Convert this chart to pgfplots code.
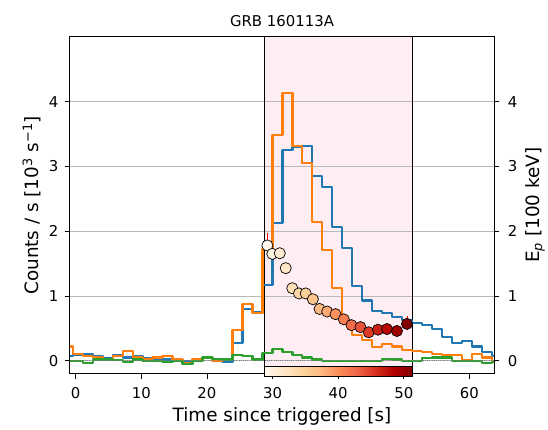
\documentclass[border=0pt]{standalone}
\usepackage{pgfplots}
\pgfplotsset{compat=1.18}
\usepackage{pgfplotstable}
\usepackage{fontspec}
\setmainfont{DejaVu Sans}
\usetikzlibrary{calc}

\definecolor{mplblue}{HTML}{1F77B4}
\definecolor{mplorange}{HTML}{FF7F0E}
\definecolor{mplgreen}{HTML}{2CA02C}
\definecolor{pinkspan}{RGB}{254,237,242}

\pgfplotstableread{
x b o g
-1.993 0.08 0.22 0.00
-0.470 0.09 0.10 0.00
1.053 0.11 0.08 -0.03
2.576 0.07 0.05 0.02
4.099 0.04 0.02 0.02
5.622 0.09 0.07 0.01
7.145 0.05 0.15 -0.02
8.668 0.07 0.05 0.02
10.191 0.04 0.03 -0.01
11.714 0.03 0.05 0.00
13.237 0.02 0.08 -0.02
14.760 0.02 0.02 0.00
16.283 -0.01 -0.03 -0.05
17.806 0.02 0.02 0.00
19.329 0.04 0.04 0.05
20.852 0.03 0.00 0.03
22.375 -0.02 0.02 0.02
23.898 0.28 0.47 0.09
25.421 0.80 0.88 0.07
26.944 0.76 0.74 0.02
28.467 1.17 1.72 0.12
29.990 2.13 3.49 0.18
31.513 3.25 4.14 0.13
33.036 3.30 3.31 0.09
34.559 3.31 3.06 0.05
36.082 2.85 2.14 0.02
37.605 2.68 1.71 0.00
39.128 2.07 1.13 0.00
40.651 1.74 0.60 0.00
42.174 1.15 0.40 0.00
43.697 0.93 0.32 0.00
45.220 0.77 0.21 0.00
46.743 0.74 0.26 0.03
48.266 0.67 0.22 0.02
49.789 0.63 0.17 0.00
51.312 0.59 0.15 0.00
52.835 0.55 0.13 0.04
54.358 0.49 0.11 0.05
55.881 0.37 0.09 0.05
57.404 0.28 0.09 0.00
58.927 0.31 0.01 0.00
60.450 0.22 0.10 0.00
61.973 0.14 0.05 -0.03
63.496 0.07 0.00 -0.02
65.019 0.07 0.00 -0.02
}\lc

\pgfplotstableread{
t ep
29.21 1.78
29.97 1.65
31.10 1.66
32.01 1.43
33.01 1.12
34.03 1.04
35.05 1.04
36.15 0.95
37.17 0.80
38.33 0.76
39.60 0.72
40.86 0.64
42.03 0.55
43.40 0.52
44.66 0.44
46.07 0.48
47.44 0.49
48.96 0.46
50.48 0.57
}\ep

\pgfplotstableread{
x y
28.81 -0.2
28.81 5
51.29 5
51.29 -0.2
}\spantab

\newcommand{\fs}{\fontsize{15}{18}\selectfont}
\newcommand{\fl}{\fontsize{18.5}{22}\selectfont}

\begin{document}
\begin{tikzpicture}
\pgfplotsset{
  base/.style={
    scale only axis, width=426bp, height=338bp,
    xmin=-0.9, xmax=63.8, ymin=-0.2, ymax=5,
    at={(0,0)}, anchor=south west,
    tick align=outside, major tick length=5bp,
    tick style={black, line width=0.8bp},
    ticklabel style={font=\fs},
    label style={font=\fl},
    /pgf/number format/assume math mode=true,
    ytick={0,1,2,3,4}, xtick={0,10,...,60},
    axis line style={line width=0.8bp},
  },
  steps/.style={const plot mark left, line width=2.1bp, line join=round, line cap=round},
}
\path (-70bp,-56bp) rectangle (478bp,375bp);
% background span
\begin{axis}[base, hide axis]
\addplot[fill=pinkspan, draw=none] table[x=x, y=y] {\spantab} -- cycle;
\end{axis}
\begin{axis}[base,
  xtick pos=bottom, ytick pos=left,
  xticklabel style={yshift=-5bp},
  yticklabel style={xshift=-3bp},
  ymajorgrids, grid style={gray!55, line width=0.8bp},
  xlabel={Time since triggered [s]},
  ylabel={Counts / s [10\textsuperscript{3} s\textsuperscript{−1}]},
  title={GRB 160113A},
  title style={font=\fs, at={(axis description cs:0.5,1.029)}, anchor=center},
  xlabel style={at={(axis description cs:0.5,-0.127)}, anchor=center},
  ylabel style={at={(axis description cs:-0.0897,0.5)}, anchor=center},
  colormap={OrRd}{rgb255=(255,247,236) rgb255=(254,232,200) rgb255=(253,212,158) rgb255=(253,187,132) rgb255=(252,141,89) rgb255=(239,101,72) rgb255=(215,48,31) rgb255=(179,0,0) rgb255=(127,0,0)},
  point meta min=29.2, point meta max=50.5,
  colorbar horizontal,
  colorbar style={
    at={($(parent axis.south west)+(195.7bp,5.7bp)$)}, anchor=south west,
    scale only axis, width=148bp, height=10bp,
    xtick=\empty, ytick=\empty,
    axis line style={line width=0.8bp},
  },
]
\addplot[black, line width=0.7bp] coordinates {(28.81,-0.2) (28.81,5)};
\addplot[black, line width=0.7bp] coordinates {(51.29,-0.2) (51.29,5)};
\addplot[steps, mplblue] table[x=x, y=b] {\lc};
\addplot[steps, mplorange] table[x=x, y=o] {\lc};
\addplot[steps, mplgreen] table[x=x, y=g] {\lc};
\addplot[gray, line width=1.2bp, dash pattern=on 1bp off 1.2bp] coordinates {(-0.9,0) (63.8,0)};
\addplot[red, only marks, mark=none,
  error bars/.cd, y dir=both, y explicit,
  error bar style={red, line width=0.8bp},
  error mark options={red, line width=0.8bp, mark size=2.5bp}]
  coordinates {
  (29.21,1.78) += (0,0.16) -= (0,0.11)
  (50.48,0.57) += (0,0.09) -= (0,0.05)
  };
\addplot[scatter, only marks, mark=*, mark size=5.6bp, scatter src=x,
  scatter/use mapped color={draw=black, fill=mapped color},
  mark options={line width=0.7bp}]
  table[x=t, y=ep] {\ep};
\end{axis}
\begin{axis}[base,
  axis x line=none, axis y line*=right,
  yticklabel style={xshift=5bp},
  ylabel={E\textsubscript{\textit{p}} [100 keV]},
  ylabel style={at={(axis description cs:1.096,0.5)}, anchor=center},
]
\addplot[draw=none] coordinates {(0,0) (1,1)};
\end{axis}
\end{tikzpicture}
\end{document}
